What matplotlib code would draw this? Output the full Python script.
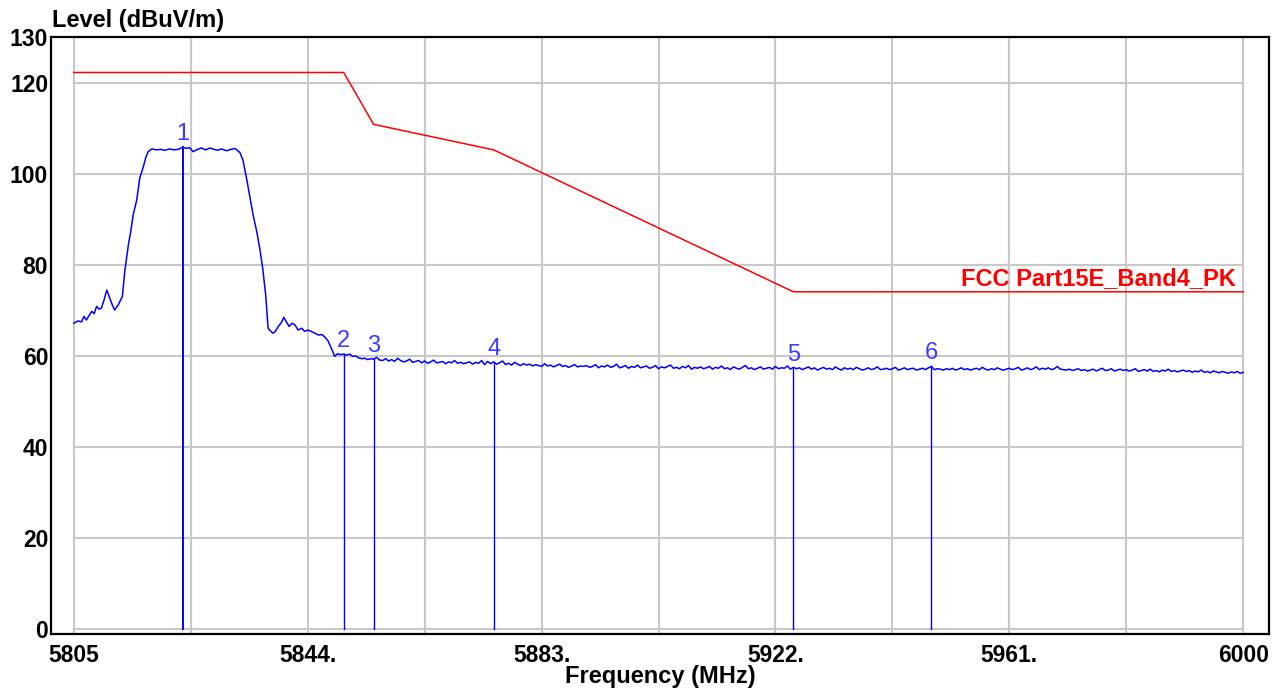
import numpy as np
import matplotlib
matplotlib.use("Agg")
import matplotlib.pyplot as plt

plt.rcParams["font.family"] = ["Liberation Sans", "DejaVu Sans"]

# ------------------------------------------------------- данные
# начало развертки: неравномерные точки, MHz / dBuV/m
head_freq = [5805.0, 5805.7, 5806.3, 5806.7, 5807.1, 5807.6, 5808.0, 5808.4, 5808.8, 5809.2,
             5809.6, 5810.0, 5810.5, 5811.0, 5811.4, 5811.8, 5812.4, 5813.1, 5813.5, 5814.1,
             5814.5, 5814.9, 5815.5, 5816.0, 5816.6, 5817.0, 5817.4, 5818.0, 5818.8, 5819.5,
             5820.2, 5821.0, 5821.7, 5822.4, 5823.2, 5823.8, 5824.3, 5824.9, 5825.6, 5826.3,
             5827.0, 5827.7, 5828.4, 5829.0, 5829.6, 5830.5, 5831.2, 5831.9, 5832.7, 5833.2,
             5833.8, 5834.4, 5834.9, 5835.5, 5836.0, 5836.5, 5837.0, 5837.4, 5837.8, 5838.2,
             5838.6, 5839.1, 5839.6, 5840.0, 5840.5, 5840.9, 5841.4, 5841.9, 5842.4, 5843.0,
             5843.5, 5844.0, 5844.6, 5845.2, 5845.8, 5846.4, 5846.9, 5847.4, 5847.8, 5848.2,
             5848.5, 5849.0, 5849.4, 5850.0]
head_level = [67.1, 67.6, 67.4, 68.6, 67.8, 68.9, 69.7, 69.2, 70.8, 70.2,
              70.4, 72.0, 74.4, 72.6, 71.2, 70.0, 71.1, 73.0, 78.5, 84.3,
              87.3, 90.9, 94.2, 99.0, 101.5, 103.5, 104.8, 105.4, 105.2, 105.3,
              105.1, 105.4, 105.2, 105.3, 105.8, 105.5, 105.7, 104.8, 105.3, 105.6,
              105.2, 105.6, 105.3, 105.1, 105.4, 105.0, 105.3, 105.5, 104.6, 103.0,
              99.0, 94.6, 90.9, 87.3, 83.6, 79.2, 73.3, 66.0, 65.4, 64.9,
              65.3, 66.4, 67.2, 68.4, 67.3, 66.4, 67.1, 66.7, 65.6, 66.0,
              65.3, 65.6, 65.3, 64.9, 64.5, 64.6, 64.0, 63.2, 62.0, 60.8,
              59.8, 60.4, 60.2, 60.3]

# шумовой пол: шаг 0.5 MHz от 5850.5 до 6000
floor_start, floor_step = 5850.5, 0.5
floor_level = [
    60.1, 60.3, 59.8, 59.9, 59.5, 59.3, 59.4, 59.1, 59.3, 59.2, 59.6, 59.0, 58.9, 59.3, 58.8, 59.1, 58.7, 59.4, 58.9, 58.6,
    58.8, 59.2, 58.5, 58.7, 58.9, 58.4, 58.8, 58.3, 58.6, 59.0, 58.4, 58.5, 58.7, 58.2, 58.6, 58.4, 58.9, 58.3, 58.5, 58.2,
    58.4, 58.6, 58.1, 58.5, 58.3, 58.9, 58.0, 58.7, 58.2, 58.6, 58.1, 58.4, 58.8, 58.0, 58.3, 57.9, 58.5, 58.1, 57.8, 58.2,
    57.9, 58.1, 57.7, 58.0, 57.8, 57.6, 58.2, 57.7, 57.9, 57.5, 57.8, 58.1, 57.6, 57.8, 57.4, 57.7, 58.0, 57.5, 57.7, 57.6,
    57.8, 57.4, 57.6, 58.0, 57.3, 57.7, 57.5, 57.9, 57.4, 57.6, 58.1, 57.3, 57.5, 57.8, 57.2, 57.6, 57.4, 57.9, 57.3, 57.5,
    57.7, 57.2, 57.4, 57.8, 57.1, 57.5, 57.3, 57.6, 57.9, 57.2, 57.4, 57.1, 57.6, 57.3, 57.8, 57.0, 57.4, 57.2, 57.5, 57.1,
    57.3, 57.6, 57.0, 57.4, 57.2, 57.7, 57.1, 57.3, 56.9, 57.5, 57.2, 57.0, 57.4, 57.8, 57.1, 57.3, 56.9, 57.2, 57.5, 57.0,
    57.2, 57.4, 57.0, 57.6, 57.1, 57.3, 57.2, 57.7, 57.0, 57.4, 57.1, 57.3, 56.9, 57.2, 57.5, 57.0, 57.3, 56.8, 57.1, 57.4,
    57.0, 57.2, 56.9, 57.5, 57.1, 56.8, 57.3, 57.0, 57.2, 56.9, 57.4, 57.1, 56.8, 57.0, 57.3, 56.9, 57.1, 57.5, 56.9, 57.0,
    57.2, 56.9, 57.1, 57.4, 56.8, 57.0, 57.3, 56.9, 57.1, 57.2, 56.8, 57.0, 57.2, 56.9, 57.3, 57.6, 56.9, 57.1, 57.0, 56.8,
    57.1, 56.9, 57.2, 56.8, 57.0, 57.3, 56.9, 57.1, 56.8, 57.0, 57.2, 56.9, 57.4, 57.0, 56.8, 57.1, 56.9, 57.3, 57.0, 56.8,
    57.0, 57.2, 56.9, 57.1, 57.4, 56.8, 57.0, 57.3, 56.9, 57.1, 57.5, 56.9, 57.2, 57.0, 57.3, 56.9, 57.1, 57.6, 57.0, 56.9,
    56.8, 57.0, 56.7, 56.9, 57.1, 56.7, 56.9, 56.6, 56.8, 57.0, 56.6, 56.9, 57.2, 56.7, 56.8, 57.1, 56.6, 56.8, 57.0, 56.7,
    56.9, 56.6, 56.8, 57.1, 56.5, 56.7, 56.9, 56.6, 57.0, 56.5, 56.7, 56.4, 56.8, 56.6, 57.0, 56.5, 56.7, 56.4, 56.6, 56.8,
    56.5, 56.7, 56.3, 56.6, 56.4, 56.8, 56.3, 56.5, 56.2, 56.6, 56.4, 56.2, 56.5, 56.3, 56.1, 56.4, 56.2, 56.5, 56.1, 56.3,
]

limit_freq = [5805, 5850, 5855, 5875, 5925, 6000]
limit_level = [122.2, 122.2, 110.8, 105.2, 74.0, 74.0]
limit_name = "FCC Part15E_Band4_PK"

marker_freq = [5823.2, 5850.0, 5855.0, 5875.0, 5925.0, 5948.0]
marker_level = [105.8, 60.3, 59.2, 58.6, 57.3, 57.7]

x_ticks = [5805, 5844, 5883, 5922, 5961, 6000]
x_ticklabels = ["5805", "5844.", "5883.", "5922.", "5961.", "6000"]
y_ticks = [0, 20, 40, 60, 80, 100, 120, 130]

# ------------------------------------------------------- картинка
floor_freq = floor_start + floor_step * np.arange(len(floor_level))
freq = np.concatenate([head_freq, floor_freq])
level = np.concatenate([head_level, floor_level])

fig = plt.figure(figsize=(12.85, 6.93), dpi=100)
ax = fig.add_axes([51 / 1285, 59 / 693, 1218 / 1285, 597 / 693])
ax.set_xlim(5801.2, 6004.3)
ax.set_ylim(-1.2, 130)

# сетка: вертикальные линии через 19.5 MHz, горизонтальные через 20
for gx in np.arange(5805, 6001, 19.5):
    ax.axvline(gx, color="#c8c8c8", lw=1.5, zorder=1)
for gy in np.arange(0, 121, 20):
    ax.axhline(gy, xmin=(5805 - 5801.2) / (6004.3 - 5801.2),
               xmax=(6000 - 5801.2) / (6004.3 - 5801.2),
               color="#c8c8c8", lw=1.5, zorder=1)

ax.set_xticks(x_ticks, x_ticklabels)
ax.set_yticks(y_ticks)
ax.tick_params(which="both", length=0)
ax.tick_params(axis="x", pad=7, labelsize=16.5)
ax.tick_params(axis="y", pad=2, labelsize=16.5)
for lab in ax.get_xticklabels() + ax.get_yticklabels():
    lab.set_fontweight("bold")
for sp in ax.spines.values():
    sp.set_linewidth(1.6)
    sp.set_zorder(5)

ax.plot(limit_freq, limit_level, color="#ff0000", lw=1.1, zorder=3)
ax.text(5998.7, 75.4, limit_name, color="#ff0000", fontsize=17,
        fontweight="bold", ha="right", va="baseline", zorder=4)

ax.plot(freq, level, color="#0000ff", lw=1.1, zorder=3)
for i, (f, v) in enumerate(zip(marker_freq, marker_level)):
    ax.plot([f, f], [0, v], color="#0000ff", lw=1.4 if i == 0 else 1.0, zorder=3)
    ax.annotate(str(i + 1), (f, v), xytext=(0, 1.5), textcoords="offset points",
                ha="center", va="bottom", color="#3c3cff", fontsize=17, zorder=4)

fig.text(52 / 1285, 1 - 20 / 693, "Level (dBuV/m)", fontsize=17, fontweight="bold",
         ha="left", va="center")
fig.text(660 / 1285, 1 - 677 / 693, "Frequency (MHz)", fontsize=17, fontweight="bold",
         ha="center", va="center")

fig.savefig("out.png", dpi=100)
